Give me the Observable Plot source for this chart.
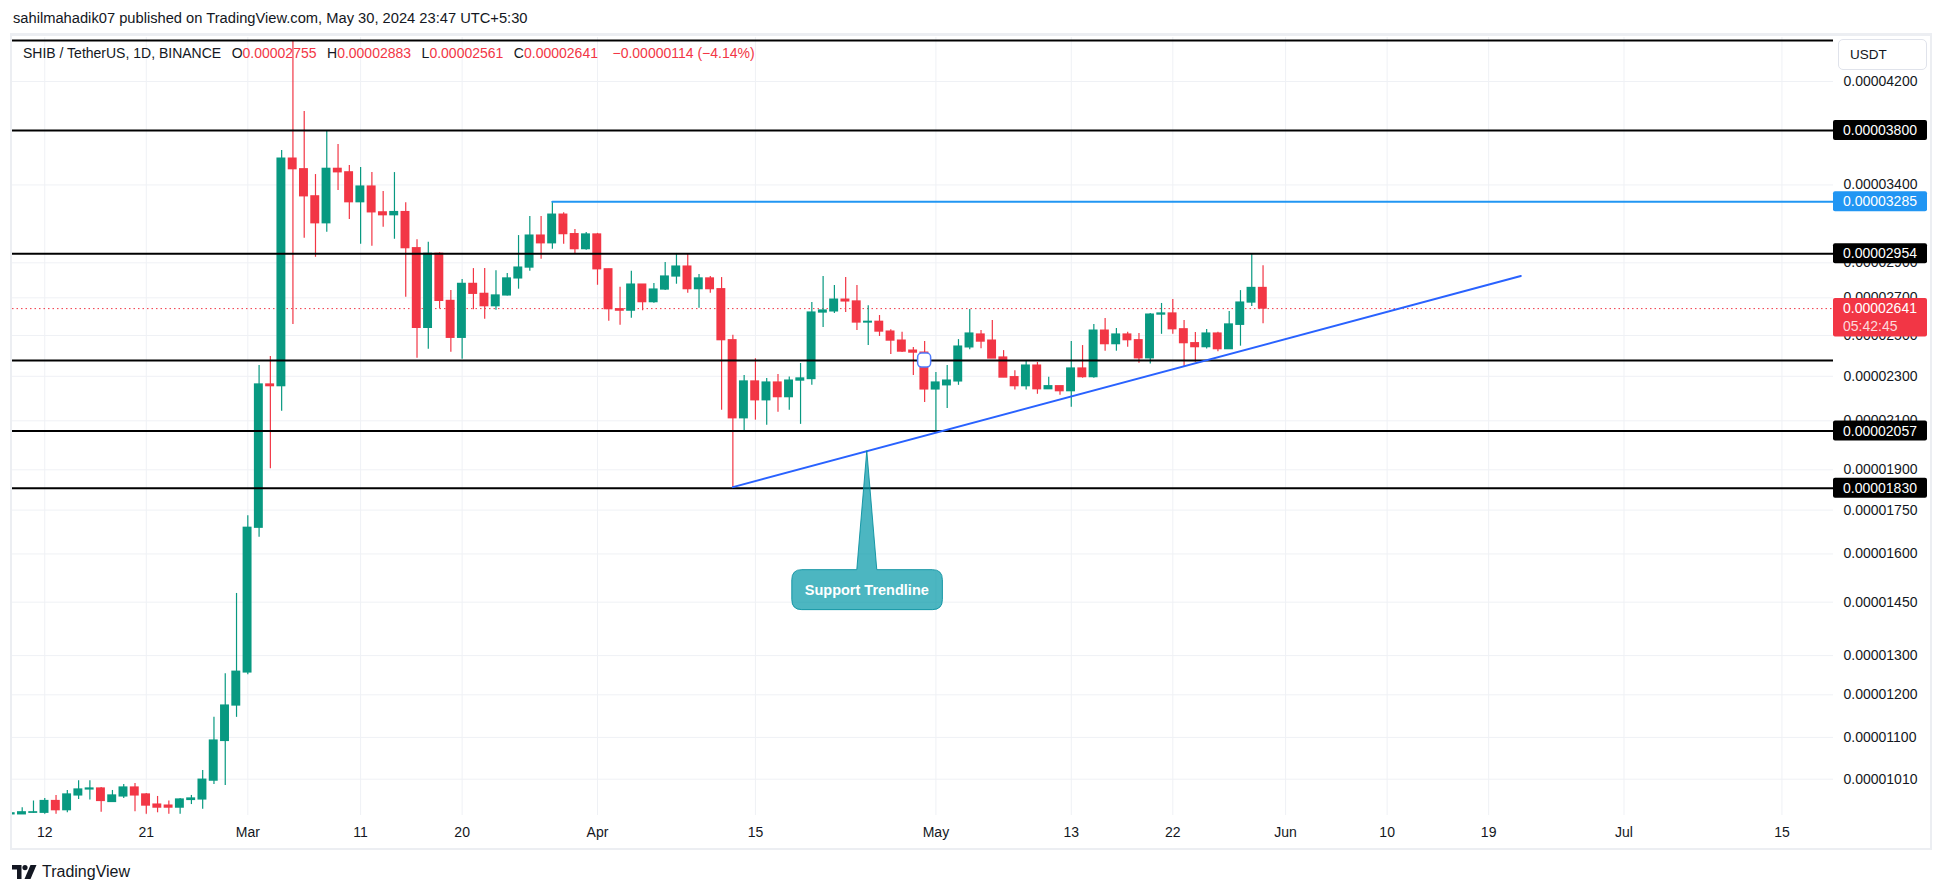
<!DOCTYPE html>
<html><head><meta charset="utf-8">
<script src="https://cdn.jsdelivr.net/npm/d3@7"></script>
<script src="https://cdn.jsdelivr.net/npm/@observablehq/plot@0.6"></script>
<style>
body{margin:0;background:#fff;font-family:"Liberation Sans",Arial,sans-serif;color:#131722}
#wrap{position:relative;width:1946px;height:893px;overflow:hidden;background:#fff}
#header{position:absolute;left:13px;top:10px;font-size:14.7px;line-height:17px;white-space:nowrap;color:#131722}
#chart{position:absolute;left:0;top:33px}
#frame{position:absolute;left:10px;top:33px;width:1922px;height:817px;box-sizing:border-box;border:2px solid #eceef2;border-top-width:3px;pointer-events:none}
#legend{position:absolute;left:23px;top:45px;font-size:14px;line-height:16px;white-space:nowrap;color:#131722}
#legend span{display:inline-block;margin-right:10.5px}
#legend .v{color:#F23645;margin:0}
#legend .chg{color:#F23645;margin-left:4px}
#usdt{position:absolute;left:1838px;top:39px;width:89px;height:31px;box-sizing:border-box;border:1px solid #e0e3eb;border-radius:5px;background:#fff;font-size:13.5px;line-height:29px;padding-left:11px;color:#131722}
#footer{position:absolute;left:12px;top:863px;height:18px;display:flex;align-items:center;font-size:16px;color:#131722}
#footer svg{margin-right:5px}
</style></head>
<body><div id="wrap">
<div id="header">sahilmahadik07 published on TradingView.com, May 30, 2024 23:47 UTC+5:30</div>
<div id="chart"></div>
<div id="legend"></div>
<div id="frame"></div>
<div id="usdt">USDT</div>
<div id="footer"><svg width="25" height="14" viewBox="0 0 25 14"><path d="M0 0h9.5v14h-4.5v-9.5h-5z" fill="#131722"/><circle cx="13" cy="2.6" r="2.6" fill="#131722"/><path d="M18.5 0h6l-6 14h-6z" fill="#131722"/></svg><span>TradingView</span></div>
</div>
<script>
// ---- data (prices in millionths of USDT) ----
const startDate = "2024-02-09";
const open = [
 9.40,9.40,9.43,9.43,9.66,9.48,9.77,9.89,9.91,9.64,9.75,9.93,9.79,9.59,9.57,9.53,9.68,9.69,10.07,10.92,11.74,
 12.56,16.88,22.62,22.54,35.88,35.11,33.22,31.44,35.14,34.89,32.82,33.89,32.15,31.96,32.17,29.88,25.39,29.54,26.83,24.88,27.78,27.22,26.54,27.13,28.09,28.72,30.66,30.18,32.00,30.75,29.82,
 30.73,28.62,26.38,26.30,27.74,26.76,27.46,28.20,28.78,27.48,28.09,27.48,24.76,21.11,22.76,21.90,22.71,22.04,22.80,22.87,26.20,26.26,26.90,26.80,25.67,25.71,25.20,24.74,24.24,24.14,
 22.39,22.58,22.76,24.40,25.05,24.74,23.90,22.96,22.54,23.51,22.40,22.54,22.31,23.37,22.96,25.25,24.56,25.05,24.76,23.86,26.09,26.15,25.32,24.61,24.41,25.10,24.31,25.55,26.74,27.55];
const high = [
 9.45,9.53,9.66,9.71,9.77,9.87,10.07,10.07,9.93,9.87,9.99,10.01,9.81,9.75,9.66,9.71,9.77,10.28,11.46,12.53,14.76,
 17.30,23.51,23.95,36.47,45.66,39.50,34.73,37.98,36.93,35.37,35.23,34.87,33.54,34.87,32.78,30.40,30.25,29.60,27.40,28.03,28.66,28.66,28.54,28.37,30.66,31.88,31.88,32.85,32.13,31.04,30.86,
 30.80,28.62,27.59,28.51,27.74,27.80,29.02,29.56,29.56,28.32,28.20,28.14,25.01,23.04,23.84,22.90,23.08,22.97,23.61,26.74,28.20,27.69,28.14,27.69,26.57,26.04,25.30,25.16,24.40,24.69,
 23.18,23.51,24.79,26.36,25.25,25.78,24.24,23.26,23.72,23.66,22.96,22.54,24.69,24.49,25.57,25.88,25.36,25.16,25.10,26.15,26.69,26.90,25.78,25.15,25.31,25.16,26.25,27.40,29.50,28.83];
const low = [
 9.38,9.40,9.42,9.40,9.40,9.43,9.69,9.68,9.44,9.63,9.71,9.45,9.40,9.43,9.40,9.40,9.59,9.50,9.99,9.97,11.46,
 12.50,16.56,19.04,21.42,25.57,30.49,29.33,30.87,33.62,31.68,30.12,30.00,31.19,30.43,27.03,23.86,24.31,26.40,24.16,23.82,26.35,25.84,26.32,27.10,27.48,28.51,29.21,29.82,30.12,29.51,29.76,
 27.70,25.74,25.53,25.90,26.30,26.70,27.40,27.76,27.25,26.43,27.25,21.46,18.32,20.59,21.03,20.81,21.37,21.46,20.85,22.58,25.41,26.15,26.20,25.25,24.49,24.95,24.05,24.14,23.04,21.80,
 20.59,21.54,22.58,24.28,24.33,23.85,22.94,22.36,22.36,22.17,22.40,22.13,21.59,22.91,22.91,24.21,24.21,24.41,23.62,23.58,25.06,25.06,23.43,23.67,24.32,24.18,24.31,24.46,26.52,25.61];
const close = [
 9.42,9.44,9.44,9.66,9.48,9.79,9.89,9.91,9.66,9.77,9.93,9.77,9.57,9.53,9.53,9.69,9.71,10.09,10.93,11.74,12.58,
 16.88,22.62,22.54,35.88,35.11,33.22,31.44,35.14,34.89,32.82,33.89,32.15,31.96,32.17,29.88,25.39,29.54,26.83,24.88,27.78,27.22,26.54,27.13,28.09,28.72,30.66,30.18,32.00,30.75,29.82,30.73,
 28.62,26.38,26.30,27.74,26.76,27.46,28.20,28.78,27.48,28.09,27.48,24.76,21.11,22.76,21.90,22.71,22.04,22.80,22.90,26.20,26.31,26.90,26.80,25.67,25.71,25.20,24.74,24.19,24.14,22.39,
 22.71,22.80,24.44,25.10,24.69,23.85,22.94,22.54,23.51,22.40,22.54,22.31,23.37,22.96,25.25,24.56,25.05,24.76,23.86,26.09,26.15,25.32,24.61,24.41,25.10,24.31,25.57,26.74,27.55,26.41];

const levelPrices = [45.66, 38.00, 29.54, 23.75, 20.57, 18.30];     // black horizontal lines
const labeledLevels = [38.00, 29.54, 20.57, 18.30];
const resistancePrice = 32.85, resistanceStart = "2024-03-28";    // blue ray
const trendDates = ["2024-04-13T00:00Z", "2024-06-21T20:24Z"];
const trendPrices = [18.34, 28.23];
const calloutDate = "2024-04-24T22:00Z", calloutPrice = 19.74, calloutText = "Support Trendline";
const handleDate = "2024-04-30", handlePrice = 23.75;
const countdown = "05:42:45";

const yTicks = [10.10, 11.00, 12.00, 13.00, 14.50, 16.00, 17.50, 19.00, 21.00, 23.00, 25.00, 27.00, 29.00, 34.00, 38.00, 42.00];
const xTickDates = ["2024-02-12","2024-02-21","2024-03-01","2024-03-11","2024-03-20","2024-04-01","2024-04-15","2024-05-01","2024-05-13","2024-05-22","2024-06-01","2024-06-10","2024-06-19","2024-07-01","2024-07-15"];
const xTickLabels = ["12","21","Mar","11","20","Apr","15","May","13","22","Jun","10","19","Jul","15"];
const xDomain = ["2024-02-09T03:22Z", "2024-07-19T13:41Z"];
const yDomain = [9.378, 45.95];

// ---- build ----
const UP = "#089981", DOWN = "#F23645";
const fmt = v => (v / 1e6).toFixed(8);
const start = new Date(startDate);
const candles = open.map((o, i) => ({date: d3.utcDay.offset(start, i), open: o, high: high[i], low: low[i], close: close[i]}));
const colorOf = d => d.close >= d.open ? UP : DOWN;
const tickDates = xTickDates.map(s => new Date(s));
const labelMap = new Map(tickDates.map((d, i) => [+d, xTickLabels[i]]));
const last = candles[candles.length - 1];
const trend = trendDates.map((d, i) => ({date: new Date(d), price: trendPrices[i]}));
const ray = [{date: new Date(resistanceStart), price: resistancePrice}, {date: new Date(xDomain[1]), price: resistancePrice}];

// legend
const chg = last.close - last.open;
document.getElementById("legend").innerHTML =
  `<span>SHIB / TetherUS, 1D, BINANCE</span>` +
  [["O", last.open], ["H", last.high], ["L", last.low], ["C", last.close]].map(([k, v]) => `<span>${k}<span class="v">${fmt(v)}</span></span>`).join("") +
  `<span class="chg">${chg < 0 ? "\u2212" : "+"}${fmt(Math.abs(chg))} (${chg < 0 ? "\u2212" : "+"}${Math.abs(chg / last.open * 100).toFixed(2)}%)</span>`;

function callout(index, scales) {
  const ax = scales.x(new Date(calloutDate)), ay = scales.y(calloutPrice);
  const top = ay + 119, bot = ay + 159, l = ax - 75, r = ax + 75.6, R = 10;
  const g = d3.create("svg:g");
  g.append("path")
    .attr("d", `M${ax-10},${top}L${ax},${ay}L${ax+10},${top}L${r-R},${top}Q${r},${top} ${r},${top+R}L${r},${bot-R}Q${r},${bot} ${r-R},${bot}L${l+R},${bot}Q${l},${bot} ${l},${bot-R}L${l},${top+R}Q${l},${top} ${l+R},${top}Z`)
    .attr("fill", "rgba(0,151,167,0.70)").attr("stroke", "rgba(0,140,156,0.85)").attr("stroke-width", 1);
  g.append("text").attr("x", ax).attr("y", (top + bot) / 2).attr("dy", "0.35em")
    .attr("text-anchor", "middle").attr("fill", "#fff").attr("font-weight", "bold")
    .attr("font-size", 14.5).attr("font-family", "Liberation Sans, Arial, sans-serif").text(calloutText);
  return g.node();
}

function handle(index, scales) {
  const x = scales.x(new Date(handleDate)), y = scales.y(handlePrice);
  const g = d3.create("svg:g");
  g.append("rect").attr("x", x - 6.5).attr("y", y - 7).attr("width", 13).attr("height", 14).attr("rx", 4)
    .attr("fill", "#fff").attr("stroke", "#4f7cff").attr("stroke-width", 1.5);
  return g.node();
}

function priceLabels(index, scales, values, dims) {
  const x0 = dims.width - dims.marginRight, w = 94;
  const g = d3.create("svg:g").attr("font-family", "Liberation Sans, Arial, sans-serif").attr("font-size", 14).attr("text-anchor", "start");
  const boxes = labeledLevels.map(p => ({p, fill: "#000"})).concat([{p: resistancePrice, fill: "#2196F3"}]);
  for (const b of boxes) {
    const y = scales.y(b.p);
    g.append("rect").attr("x", x0).attr("y", y - 10).attr("width", w).attr("height", 20).attr("rx", 2).attr("fill", b.fill);
    g.append("text").attr("x", x0 + 10).attr("y", y).attr("dy", "0.36em").attr("text-anchor", "start").attr("fill", "#fff").text(fmt(b.p));
  }
  const yc = scales.y(last.close);
  g.append("rect").attr("x", x0).attr("y", yc - 10).attr("width", w).attr("height", 38.5).attr("rx", 2).attr("fill", DOWN);
  g.append("text").attr("x", x0 + 10).attr("y", yc).attr("dy", "0.36em").attr("text-anchor", "start").attr("fill", "#fff").text(fmt(last.close));
  g.append("text").attr("x", x0 + 10).attr("y", yc + 18).attr("dy", "0.36em").attr("text-anchor", "start").attr("fill", "rgba(255,255,255,0.82)").text(countdown);
  return g.node();
}

const chart = Plot.plot({
  width: 1946,
  height: 817,
  marginLeft: 12,
  marginRight: 113,
  marginTop: 4,
  marginBottom: 35,
  style: {background: "transparent", fontFamily: "Liberation Sans, Arial, sans-serif", fontSize: "14px", color: "#131722"},
  x: {type: "utc", domain: xDomain.map(s => new Date(s)), ticks: tickDates, tickFormat: d => labelMap.get(+d) ?? "", tickSize: 0, tickPadding: 12, label: null},
  y: {type: "log", domain: yDomain, ticks: yTicks, tickFormat: fmt, tickSize: 0, tickPadding: 10, label: null, axis: "right"},
  marks: [
    Plot.ruleY(yTicks, {stroke: "#eff1f5", strokeWidth: 1}),
    Plot.ruleX(tickDates, {stroke: "#eff1f5", strokeWidth: 1}),
    Plot.ruleY([last.close], {stroke: DOWN, strokeWidth: 1, strokeDasharray: "1.5,3"}),
    Plot.ruleX(candles, {x: "date", y1: "low", y2: "high", stroke: colorOf, strokeWidth: 1.2, clip: true}),
    Plot.rect(candles, {x1: d => d3.utcHour.offset(d.date, -9.5), x2: d => d3.utcHour.offset(d.date, 9.5), y1: "open", y2: "close", fill: colorOf, insetTop: -0.6, insetBottom: -0.6, clip: true}),
    Plot.ruleY(levelPrices, {stroke: "#000", strokeWidth: 2}),
    Plot.line(ray, {x: "date", y: "price", stroke: "#2196F3", strokeWidth: 2}),
    Plot.line(trend, {x: "date", y: "price", stroke: "#2962FF", strokeWidth: 2}),
    handle,
    callout,
    priceLabels
  ]
});
document.getElementById("chart").appendChild(chart);
</script>
</body></html>
